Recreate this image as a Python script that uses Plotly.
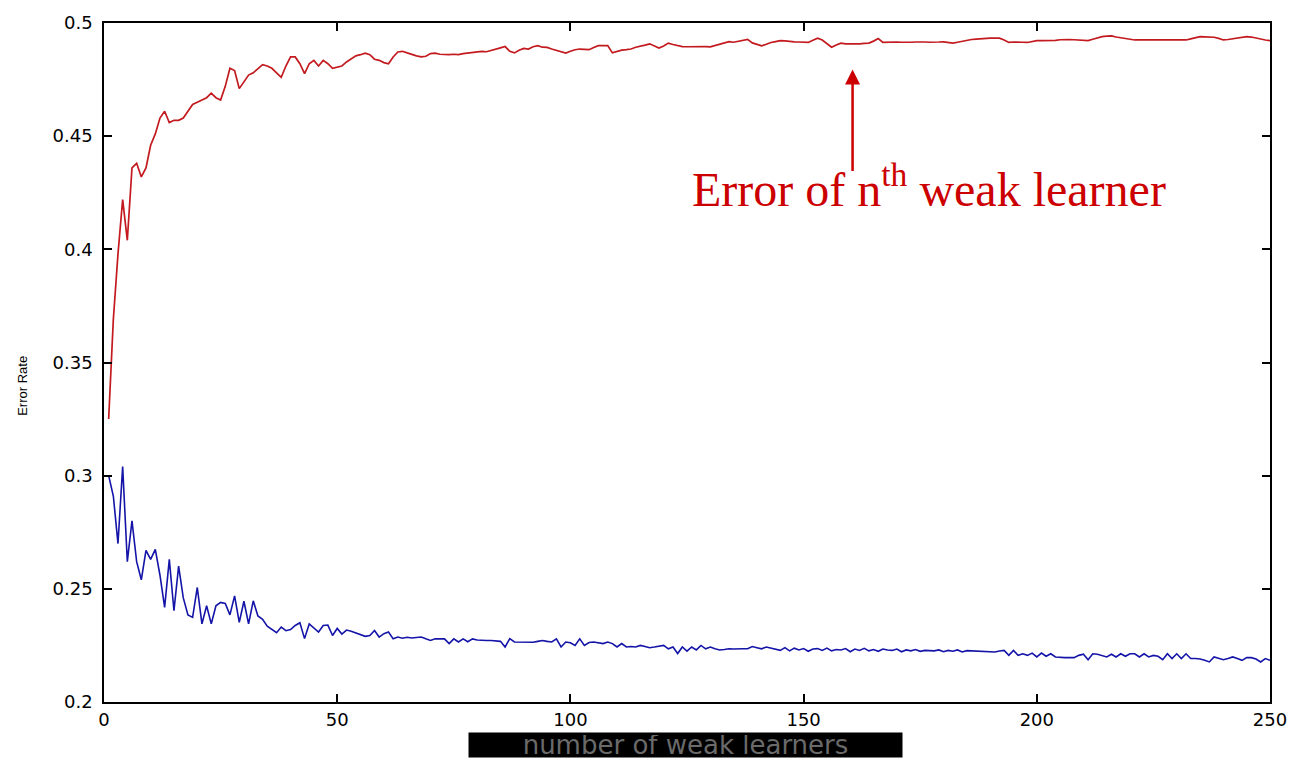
import plotly.graph_objects as go

# Boosting run: error of each newly added weak learner (red) and the
# ensemble error (blue) against the number of weak learners.
iterations = list(range(1, 251))

weak_learner_error = [
    0.325, 0.369, 0.398, 0.422, 0.404, 0.436, 0.438, 0.432, 0.436, 0.446,
    0.451, 0.458, 0.461, 0.456, 0.457, 0.457, 0.458, 0.461, 0.464, 0.465,
    0.466, 0.467, 0.469, 0.467, 0.466, 0.472, 0.480, 0.479, 0.471, 0.474,
    0.477, 0.478, 0.480, 0.4816, 0.481, 0.480, 0.478, 0.476, 0.481, 0.485,
    0.485, 0.482, 0.4776, 0.482, 0.4835, 0.481, 0.4835, 0.482, 0.480, 0.4805,
    0.481, 0.4828, 0.484, 0.4855, 0.486, 0.4867, 0.486, 0.484, 0.4835, 0.4825,
    0.482, 0.485, 0.4872, 0.4875, 0.4868, 0.486, 0.4855, 0.485, 0.4853, 0.4865,
    0.4867, 0.4862, 0.486, 0.486, 0.4862, 0.486, 0.4865, 0.4867, 0.487, 0.4872,
    0.4875, 0.4873, 0.4878, 0.4882, 0.489, 0.4896, 0.4875, 0.4868, 0.488, 0.4888,
    0.4885, 0.4895, 0.490, 0.4893, 0.4892, 0.4885, 0.488, 0.4872, 0.4867, 0.4875,
    0.4882, 0.4885, 0.4882, 0.4882, 0.4892, 0.490, 0.490, 0.490, 0.4868, 0.4875,
    0.4880, 0.4882, 0.4885, 0.4893, 0.4896, 0.4902, 0.4908, 0.490, 0.4889, 0.4898,
    0.4911, 0.4905, 0.490, 0.4896, 0.4895, 0.4896, 0.4895, 0.4896, 0.4896, 0.4895,
    0.490, 0.4908, 0.491, 0.4918, 0.4915, 0.492, 0.4922, 0.4928, 0.4912, 0.4904,
    0.4899, 0.4906, 0.4914, 0.4918, 0.4922, 0.4921, 0.4918, 0.4917, 0.4916, 0.4915,
    0.4914, 0.4924, 0.4933, 0.4925, 0.4908, 0.4893, 0.4903, 0.4911, 0.4908, 0.4907,
    0.4906, 0.4908, 0.4910, 0.4911, 0.4920, 0.4931, 0.4914, 0.4915, 0.4917, 0.4916,
    0.4915, 0.4914, 0.4915, 0.4916, 0.4917, 0.4916, 0.4915, 0.4914, 0.4916, 0.4917,
    0.4914, 0.4911, 0.4915, 0.4920, 0.4925, 0.4927, 0.4929, 0.4931, 0.4933, 0.4933,
    0.4933, 0.4933, 0.4925, 0.4914, 0.4916, 0.4917, 0.4915, 0.4914, 0.4918, 0.4922,
    0.4922, 0.4922, 0.4922, 0.4923, 0.4926, 0.4928, 0.4927, 0.4926, 0.4925, 0.4925,
    0.4922, 0.4928, 0.4935, 0.4940, 0.4942, 0.4943, 0.4938, 0.4934, 0.4930, 0.4928,
    0.4925, 0.4925, 0.4925, 0.4925, 0.4925, 0.4924, 0.4923, 0.4922, 0.4923, 0.4924,
    0.4925, 0.4925, 0.4930, 0.4936, 0.4940, 0.4939, 0.4938, 0.4937, 0.4932, 0.4925,
    0.4927, 0.4930, 0.4933, 0.4937, 0.4940, 0.4938, 0.4933, 0.4928, 0.4925, 0.4922,
]

ensemble_error = [
    0.300, 0.291, 0.270, 0.304, 0.262, 0.280, 0.262, 0.254, 0.267, 0.263,
    0.2674, 0.256, 0.2418, 0.263, 0.2403, 0.260, 0.246, 0.2385, 0.2374, 0.2506,
    0.2345, 0.2425, 0.2345, 0.2425, 0.244, 0.2435, 0.2385, 0.2469, 0.2352, 0.2445,
    0.2345, 0.2447, 0.238, 0.2365, 0.2335, 0.2322, 0.2306, 0.2331, 0.2315, 0.2320,
    0.2338, 0.235, 0.228, 0.2345, 0.2325, 0.2309, 0.2338, 0.2340, 0.2294, 0.2325,
    0.2300, 0.2318, 0.2313, 0.2305, 0.2297, 0.2290, 0.2294, 0.2316, 0.2287, 0.2302,
    0.2309, 0.2279, 0.2287, 0.2282, 0.2286, 0.2283, 0.2285, 0.2287, 0.2279, 0.2272,
    0.2279, 0.2280, 0.2279, 0.2258, 0.2279, 0.2265, 0.2279, 0.2266, 0.2279, 0.2274,
    0.2272, 0.2272, 0.2272, 0.2270, 0.2268, 0.2243, 0.2280, 0.2265, 0.2265, 0.2265,
    0.2266, 0.2264, 0.2268, 0.2272, 0.2268, 0.2265, 0.2279, 0.2243, 0.2265, 0.2262,
    0.2250, 0.2279, 0.2250, 0.2263, 0.2265, 0.2262, 0.2258, 0.2265, 0.2258, 0.2243,
    0.2258, 0.2243, 0.2245, 0.2243, 0.2250, 0.2245, 0.2240, 0.2243, 0.2248, 0.2250,
    0.2235, 0.2243, 0.2214, 0.2243, 0.2225, 0.2243, 0.2230, 0.2250, 0.2235, 0.2243,
    0.2235, 0.2230, 0.2232, 0.2235, 0.2234, 0.2236, 0.2235, 0.2235, 0.2245, 0.2240,
    0.2235, 0.2243, 0.2238, 0.2235, 0.2228, 0.2240, 0.2226, 0.2238, 0.2230, 0.2236,
    0.2224, 0.2234, 0.2236, 0.2228, 0.2238, 0.2226, 0.2232, 0.2230, 0.2236, 0.2222,
    0.2234, 0.2228, 0.2237, 0.2226, 0.2232, 0.2224, 0.2234, 0.2230, 0.2228, 0.2234,
    0.2222, 0.2230, 0.2226, 0.2232, 0.2224, 0.2228, 0.2228, 0.2226, 0.2230, 0.2222,
    0.2228, 0.2224, 0.2230, 0.2221, 0.2227, 0.2226, 0.2226, 0.2225, 0.2226, 0.2224,
    0.2221, 0.2225, 0.2228, 0.2206, 0.2228, 0.2206, 0.2213, 0.2206, 0.2216, 0.2199,
    0.2216, 0.2202, 0.2213, 0.2199, 0.2196, 0.2196, 0.2196, 0.2196, 0.2206, 0.2211,
    0.2187, 0.2213, 0.2211, 0.2206, 0.2199, 0.2211, 0.2199, 0.2213, 0.2202, 0.2213,
    0.2213, 0.2199, 0.2213, 0.2199, 0.2206, 0.2202, 0.2187, 0.2213, 0.2192, 0.2213,
    0.2192, 0.2213, 0.2192, 0.2192, 0.2190, 0.2184, 0.2177, 0.2199, 0.2192, 0.2187,
    0.2192, 0.2199, 0.2192, 0.2184, 0.2196, 0.2196, 0.2190, 0.2177, 0.2192, 0.2184,
]

x_ticks = [0, 50, 100, 150, 200, 250]
y_ticks = [0.2, 0.25, 0.3, 0.35, 0.4, 0.45, 0.5]
y_tick_labels = ["0.2", "0.25", "0.3", "0.35", "0.4", "0.45", "0.5"]

# Where the callout arrow points (iteration, error) and the callout text
arrow_tip = (160.5, 0.4795)
callout_pos = (176.8, 0.4282)
callout_text = "Error of n<sup>th</sup> weak learner"
x_title = "number of weak learners"
y_title = "Error Rate"

fig = go.Figure()
fig.add_trace(go.Scatter(
    x=iterations, y=weak_learner_error, mode="lines",
    line=dict(color="#c21a1e", width=1.7), showlegend=False,
))
fig.add_trace(go.Scatter(
    x=iterations, y=ensemble_error, mode="lines",
    line=dict(color="#1414a8", width=1.6), showlegend=False,
))

axis_common = dict(
    showline=True, linecolor="black", linewidth=1.5, mirror="ticks",
    ticks="inside", ticklen=8, tickwidth=1.5, tickcolor="black",
    showgrid=False, zeroline=False,
    tickfont=dict(family="DejaVu Sans", size=18, color="black"),
)

fig.update_xaxes(range=[0, 250], tickvals=x_ticks, ticklabelstandoff=1, **axis_common)
fig.update_yaxes(range=[0.2, 0.5], tickvals=y_ticks, ticktext=y_tick_labels,
                 ticklabelstandoff=6, **axis_common)

# Callout arrow and its label
fig.add_annotation(
    x=arrow_tip[0], y=arrow_tip[1], xref="x", yref="y",
    text="", showarrow=True, ax=0, ay=103,
    arrowhead=2, arrowsize=1.2, arrowwidth=2.5, arrowcolor="#cc0000", standoff=0,
)
fig.add_annotation(
    x=callout_pos[0], y=callout_pos[1], xref="x", yref="y",
    text=callout_text, showarrow=False,
    font=dict(family="Liberation Serif", size=48, color="#cc0000"),
    xanchor="center", yanchor="middle",
)

# Axis titles
fig.add_annotation(
    x=0.4983, y=-0.0629, xref="paper", yref="paper",
    text=x_title, showarrow=False,
    font=dict(family="DejaVu Sans", size=26, color="#6a6a6a"),
    bgcolor="black", width=429, height=20, borderpad=2,
    xanchor="center", yanchor="middle",
)
fig.add_annotation(
    x=-0.0699, y=0.4664, xref="paper", yref="paper",
    text=y_title, showarrow=False, textangle=-90,
    font=dict(family="Liberation Sans Narrow, Arial Narrow, Liberation Sans", size=13, color="black"),
    xanchor="center", yanchor="middle",
)

fig.update_layout(
    width=1299, height=758,
    margin=dict(l=104, r=22, t=18, b=56),
    paper_bgcolor="white", plot_bgcolor="white",
)

fig.write_html("out.html")
